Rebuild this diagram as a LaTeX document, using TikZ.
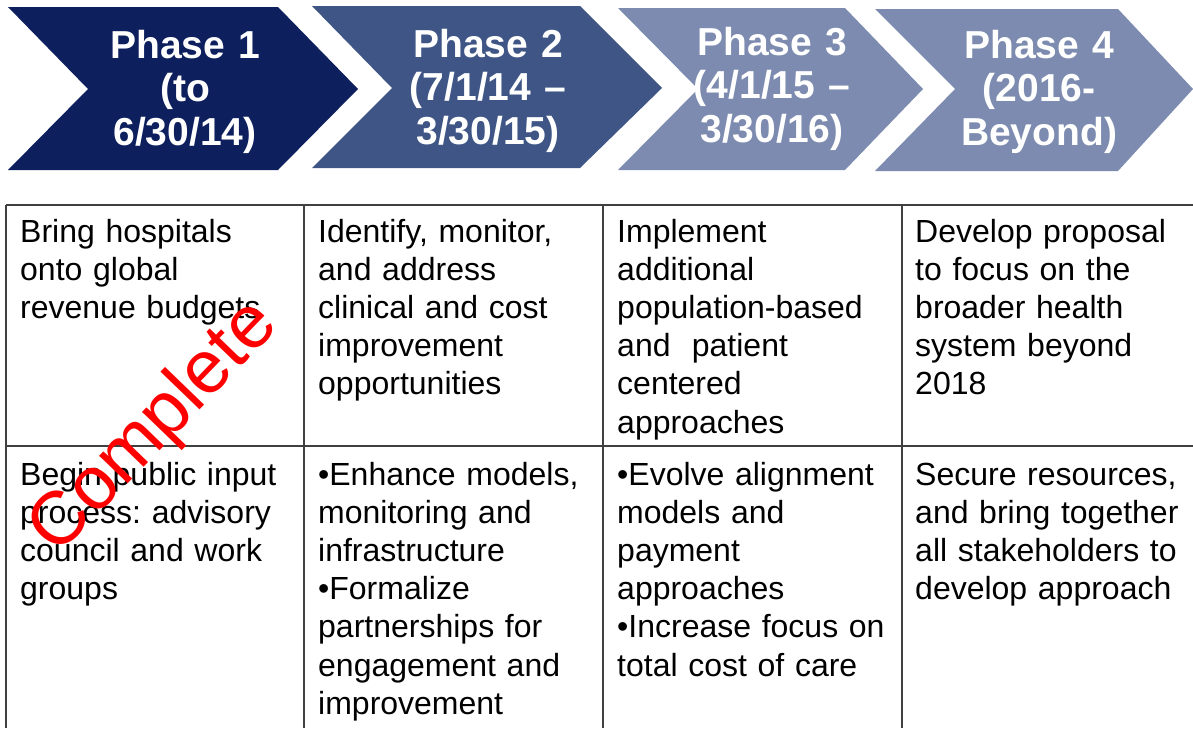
\documentclass[tikz,border=0pt]{standalone}
\usepackage{fontspec}
\setmainfont{Liberation Sans}
\definecolor{pone}{RGB}{14,31,94}
\definecolor{ptwo}{RGB}{62,85,134}
\definecolor{pthree}{RGB}{124,139,175}
\definecolor{gridgray}{RGB}{64,64,64}
\begin{document}
\begin{tikzpicture}[x=1pt,y=-1pt,
  hdr/.style={text=white,font=\fontsize{39}{43.5}\selectfont\bfseries,align=center,text width=280pt,anchor=base,inner sep=0pt},
  cell/.style={font=\fontsize{32}{38.2}\selectfont\frenchspacing,align=left,text width=282pt,anchor=base west,inner sep=0pt,text=black},
  gridline/.style={draw=gridgray,line width=2pt},
  stamp/.style={font=\fontsize{75}{75}\selectfont,text=red,rotate=46,inner sep=0pt}]
\useasboundingbox (0,0) rectangle (1193,728);
% chevrons
\fill[pone]   (8,7) -- (278,7) -- (358,89) -- (278,170) -- (8,170) -- (88,89) -- cycle;
\fill[ptwo]   (312,6) -- (580,6) -- (662,88) -- (580,168) -- (312,168) -- (392,88) -- cycle;
\fill[pthree] (618,8) -- (845,8) -- (923,89) -- (845,170) -- (618,170) -- (698,89) -- cycle;
\fill[pthree] (875,9) -- (1118,9) -- (1193,89) -- (1118,171) -- (875,171) -- (955,89) -- cycle;
\node[hdr] (h1) at (185,58) {Phase 1\\(to\\6/30/14)};
\node[hdr] (h2) at (488,57) {Phase 2\\(7/1/14 –\\3/30/15)};
\node[hdr] (h3) at (772,55) {Phase 3\\(4/1/15 –\\3/30/16)};
\node[hdr] (h4) at (1039,58) {Phase 4\\(2016-\\Beyond)};
% table grid
\draw[gridline] (6,205) -- (1193,205);
\draw[gridline] (6,446) -- (1193,446);
\draw[gridline] (6,205) -- (6,728);
\draw[gridline] (304,205) -- (304,728);
\draw[gridline] (603,205) -- (603,728);
\draw[gridline] (902,205) -- (902,728);
% cells row 1
\node[cell] (c11) at (20,242) {Bring hospitals\\onto global\\revenue budgets};
\node[cell] (c12) at (318,242) {Identify, monitor,\\and address\\clinical and cost\\improvement\\opportunities};
\node[cell] (c13) at (617,242) {Implement\\additional\\population-based\\and\ \ patient\\centered\\approaches};
\node[cell] (c14) at (915,242) {Develop proposal\\to focus on the\\broader health\\system beyond\\2018};
% cells row 2
\node[cell] (c21) at (20,485) {Begin public input\\process: advisory\\council and work\\groups};
\node[cell] (c22) at (318,485) {•Enhance models,\\monitoring and\\infrastructure\\•Formalize\\partnerships for\\engagement and\\improvement};
\node[cell] (c23) at (617,485) {•Evolve alignment\\models and\\payment\\approaches\\•Increase focus on\\total cost of care};
\node[cell] (c24) at (915,485) {Secure resources,\\and bring together\\all stakeholders to\\develop approach};
% stamp
\node[stamp] (done) at (155,428) {Complete};
\end{tikzpicture}
\end{document}
